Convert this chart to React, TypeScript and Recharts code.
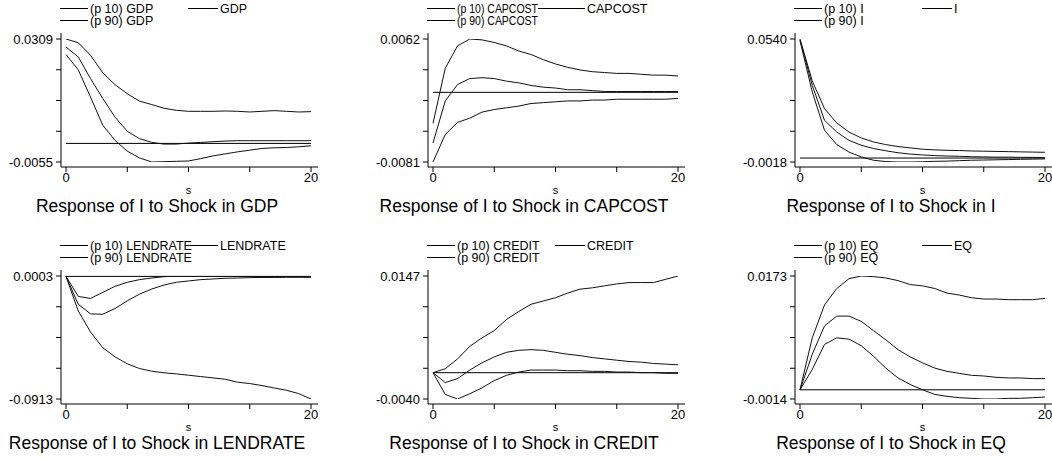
import React from 'react';
import { LineChart, Line, XAxis, YAxis, ReferenceLine } from 'recharts';

const steps = [0, 1, 2, 3, 4, 5, 6, 7, 8, 9, 10, 11, 12, 13, 14, 15, 16, 17, 18, 19, 20];
const xTicks = [0, 5, 10, 15, 20];
const xLabels = [0, 20];

const gdpRange = [-0.0055, 0.0309];
const gdpP10 = [0.0263, 0.0218, 0.0137, 0.0054, 0.0009, -0.0023, -0.0043, -0.0055, -0.0054, -0.0053, -0.0052, -0.0045, -0.0037, -0.0031, -0.0025, -0.0020, -0.0015, -0.0013, -0.0012, -0.0010, -0.0007];
const gdpMid = [0.0285, 0.0256, 0.0192, 0.0133, 0.0078, 0.0036, 0.0014, 0.0003, -0.0002, -0.0002, 0.0001, 0.0003, 0.0005, 0.0007, 0.0008, 0.0008, 0.0008, 0.0008, 0.0008, 0.0008, 0.0008];
const gdpP90 = [0.0309, 0.0298, 0.0261, 0.0209, 0.0174, 0.0147, 0.0125, 0.0115, 0.0104, 0.0098, 0.0095, 0.0095, 0.0095, 0.0096, 0.0095, 0.0093, 0.0095, 0.0097, 0.0095, 0.0093, 0.0094];

const capRange = [-0.0081, 0.0062];
const capP10 = [-0.0081, -0.0049, -0.0035, -0.0030, -0.0023, -0.0020, -0.0018, -0.0016, -0.0013, -0.0012, -0.0011, -0.0010, -0.0010, -0.0009, -0.0009, -0.0008, -0.0008, -0.0008, -0.0008, -0.0008, -0.0007];
const capMid = [-0.0059, -0.0010, 0.0009, 0.0016, 0.0017, 0.0016, 0.0013, 0.0011, 0.0008, 0.0006, 0.0005, 0.0003, 0.0003, 0.0002, 0.0001, 0.0001, 0.0001, 0.0001, 0.0001, 0.0001, 0.0001];
const capP90 = [-0.0036, 0.0028, 0.0054, 0.0062, 0.0061, 0.0058, 0.0054, 0.0048, 0.0044, 0.0038, 0.0033, 0.0029, 0.0026, 0.0024, 0.0023, 0.0022, 0.0022, 0.0021, 0.0020, 0.0020, 0.0019];

const iRange = [-0.0018, 0.0540];
const iP10 = [0.0532, 0.0300, 0.0126, 0.0061, 0.0027, 0.0005, -0.0010, -0.0016, -0.0018, -0.0018, -0.0017, -0.0015, -0.0014, -0.0012, -0.0010, -0.0009, -0.0008, -0.0007, -0.0006, -0.0005, -0.0004];
const iMid = [0.0536, 0.0330, 0.0171, 0.0118, 0.0080, 0.0058, 0.0043, 0.0033, 0.0024, 0.0018, 0.0014, 0.0011, 0.0009, 0.0008, 0.0006, 0.0005, 0.0004, 0.0004, 0.0003, 0.0003, 0.0002];
const iP90 = [0.0540, 0.0350, 0.0224, 0.0159, 0.0118, 0.0091, 0.0073, 0.0061, 0.0052, 0.0046, 0.0040, 0.0037, 0.0035, 0.0034, 0.0032, 0.0031, 0.0030, 0.0029, 0.0028, 0.0027, 0.0026];

const lendRange = [-0.0913, 0.0003];
const lendP10 = [0.0000, -0.0257, -0.0414, -0.0531, -0.0599, -0.0651, -0.0686, -0.0706, -0.0718, -0.0726, -0.0736, -0.0746, -0.0756, -0.0766, -0.0788, -0.0798, -0.0813, -0.0831, -0.0848, -0.0873, -0.0913];
const lendMid = [0.0000, -0.0207, -0.0279, -0.0282, -0.0239, -0.0182, -0.0132, -0.0094, -0.0064, -0.0044, -0.0034, -0.0024, -0.0019, -0.0014, -0.0012, -0.0009, -0.0008, -0.0008, -0.0007, -0.0007, -0.0007];
const lendP90 = [0.0000, -0.0149, -0.0164, -0.0119, -0.0074, -0.0044, -0.0024, -0.0012, -0.0002, 0.0001, 0.0002, 0.0002, 0.0002, 0.0002, 0.0002, 0.0002, 0.0002, 0.0002, 0.0002, 0.0002, 0.0002];

const credRange = [-0.0040, 0.0147];
const credP10 = [0.0000, -0.0033, -0.0040, -0.0032, -0.0023, -0.0012, -0.0004, 0.0001, 0.0004, 0.0004, 0.0004, 0.0003, 0.0003, 0.0002, 0.0002, 0.0001, 0.0001, 0.0000, 0.0000, -0.0001, -0.0001];
const credMid = [0.0000, -0.0015, -0.0009, 0.0004, 0.0015, 0.0024, 0.0031, 0.0034, 0.0035, 0.0034, 0.0031, 0.0028, 0.0026, 0.0023, 0.0021, 0.0019, 0.0017, 0.0016, 0.0014, 0.0013, 0.0012];
const credP90 = [0.0000, 0.0006, 0.0021, 0.0040, 0.0053, 0.0064, 0.0081, 0.0093, 0.0104, 0.0109, 0.0114, 0.0121, 0.0127, 0.0129, 0.0132, 0.0135, 0.0137, 0.0137, 0.0137, 0.0142, 0.0147];

const eqRange = [-0.0014, 0.0173];
const eqP10 = [0.0000, 0.0031, 0.0069, 0.0079, 0.0077, 0.0067, 0.0051, 0.0033, 0.0018, 0.0008, 0.0000, -0.0007, -0.0010, -0.0012, -0.0013, -0.0014, -0.0014, -0.0013, -0.0013, -0.0012, -0.0011];
const eqMid = [0.0000, 0.0054, 0.0097, 0.0112, 0.0112, 0.0104, 0.0090, 0.0076, 0.0061, 0.0050, 0.0041, 0.0033, 0.0028, 0.0025, 0.0022, 0.0021, 0.0019, 0.0018, 0.0018, 0.0017, 0.0017];
const eqP90 = [0.0000, 0.0079, 0.0129, 0.0154, 0.0169, 0.0173, 0.0172, 0.0170, 0.0166, 0.0160, 0.0158, 0.0154, 0.0147, 0.0144, 0.0140, 0.0138, 0.0138, 0.0137, 0.0137, 0.0137, 0.0139];

const shockNames = ['GDP', 'CAPCOST', 'I', 'LENDRATE', 'CREDIT', 'EQ'];

const panels = [
  { name: 'GDP', range: gdpRange, p10: gdpP10, mid: gdpMid, p90: gdpP90, col2: 188, fit: 0 },
  { name: 'CAPCOST', range: capRange, p10: capP10, mid: capMid, p90: capP90, col2: 171, fit: 81 },
  { name: 'I', range: iRange, p10: iP10, mid: iMid, p90: iP90, col2: 188, fit: 0 },
  { name: 'LENDRATE', range: lendRange, p10: lendP10, mid: lendMid, p90: lendP90, col2: 188, fit: 0 },
  { name: 'CREDIT', range: credRange, p10: credP10, mid: credMid, p90: credP90, col2: 188, fit: 0 },
  { name: 'EQ', range: eqRange, p10: eqP10, mid: eqMid, p90: eqP90, col2: 188, fit: 0 },
];

const FONT = '"Liberation Sans", Arial, Helvetica, sans-serif';
const COL = 367;
const ROW = 237;

type PanelDef = (typeof panels)[number];

function Panel({ p, left, top }: { p: PanelDef; left: number; top: number }) {
  const data = steps.map((s, i) => ({ s, p10: p.p10[i], mid: p.mid[i], p90: p.p90[i] }));
  const yMin = p.range[0];
  const yMax = p.range[1];
  const yTicks = [0, 1, 2, 3, 4].map((k) => yMin + ((yMax - yMin) * k) / 4);
  const fmtY = (v: number) =>
    Math.abs(v - yMin) < 1e-9 || Math.abs(v - yMax) < 1e-9 ? v.toFixed(4) : '';
  const fmtX = (v: number) => (xLabels.includes(v) ? String(v) : '');
  return (
    <div style={{ position: 'absolute', left, top }}>
      <LineChart
        width={318}
        height={200}
        data={data}
        margin={{ top: 33, right: 0, bottom: 3, left: 0 }}
        style={{ fontFamily: FONT }}
      >
        <XAxis
          dataKey="s"
          type="number"
          domain={[0, 20]}
          ticks={xTicks}
          interval={0}
          tickFormatter={fmtX}
          padding={{ left: 5, right: 7 }}
          height={30}
          tickSize={5}
          tickMargin={1}
          axisLine={{ stroke: '#000' }}
          tickLine={{ stroke: '#000' }}
          tick={{ fill: '#000', fontSize: 13, fontFamily: FONT }}
        />
        <YAxis
          type="number"
          domain={[yMin, yMax]}
          ticks={yTicks}
          allowDataOverflow
          interval={0}
          tickFormatter={fmtY}
          width={61}
          padding={{ top: 6, bottom: 5 }}
          tickSize={5}
          tickMargin={3}
          axisLine={{ stroke: '#000' }}
          tickLine={{ stroke: '#000' }}
          tick={{ fill: '#000', fontSize: 13, fontFamily: FONT }}
        />
        <ReferenceLine
          segment={[
            { x: 0, y: 0 },
            { x: 20, y: 0 },
          ]}
          stroke="#000"
          strokeWidth={1}
        />
        <Line type="linear" dataKey="p90" stroke="#111" strokeWidth={1} dot={false} isAnimationActive={false} />
        <Line type="linear" dataKey="mid" stroke="#111" strokeWidth={1} dot={false} isAnimationActive={false} />
        <Line type="linear" dataKey="p10" stroke="#111" strokeWidth={1} dot={false} isAnimationActive={false} />
      </LineChart>
    </div>
  );
}

export default function App() {
  return (
    <div
      style={{
        position: 'absolute',
        left: 0,
        top: 0,
        width: 1052,
        height: 457,
        overflow: 'hidden',
        background: '#fff',
      }}
    >
      {panels.map((p, idx) => (
        <Panel key={p.name} p={p} left={(idx % 3) * COL} top={Math.floor(idx / 3) * ROW} />
      ))}
      <svg
        width={1052}
        height={457}
        style={{ position: 'absolute', left: 0, top: 0, pointerEvents: 'none' }}
        fontFamily={FONT}
      >
        {panels.map((p, idx) => {
          const ox = (idx % 3) * COL;
          const oy = Math.floor(idx / 3) * ROW;
          const fitProps = p.fit ? { textLength: p.fit, lengthAdjust: 'spacingAndGlyphs' as const } : {};
          return (
            <g key={p.name} transform={`translate(${ox},${oy})`} fill="#000">
              <line x1={60} x2={88} y1={8.5} y2={8.5} stroke="#000" strokeWidth={1} />
              <text x={90} y={12.5} fontSize={12.5} {...fitProps}>{`(p 10) ${shockNames[idx]}`}</text>
              <line x1={p.col2} x2={218} y1={8.5} y2={8.5} stroke="#000" strokeWidth={1} />
              <text x={220} y={12.5} fontSize={12.5}>{shockNames[idx]}</text>
              <line x1={60} x2={88} y1={20.5} y2={20.5} stroke="#000" strokeWidth={1} />
              <text x={90} y={24.5} fontSize={12.5} {...fitProps}>{`(p 90) ${shockNames[idx]}`}</text>
              <text x={188.5} y={194} fontSize={11} textAnchor="middle">s</text>
              <text x={157} y={212} fontSize={17.5} textAnchor="middle">{`Response of I to Shock in ${shockNames[idx]}`}</text>
            </g>
          );
        })}
      </svg>
    </div>
  );
}
